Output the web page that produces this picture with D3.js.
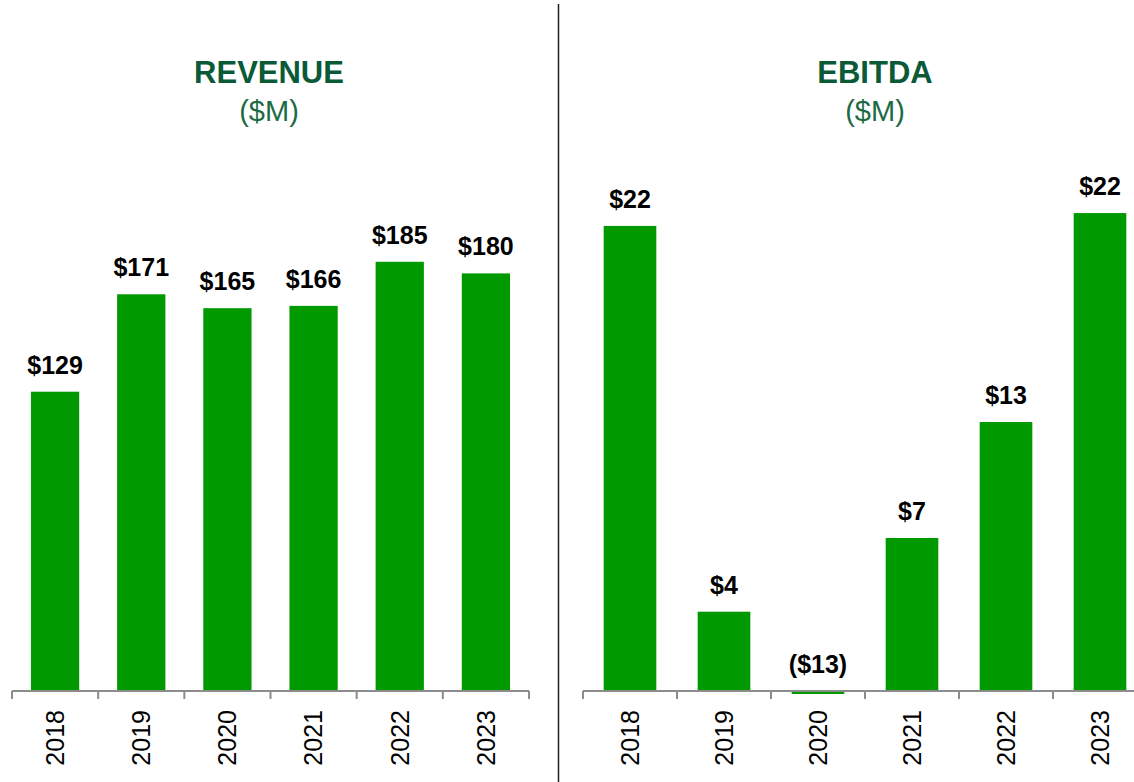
<!DOCTYPE html>
<html>
<head>
<meta charset="utf-8">
<script src="https://cdn.jsdelivr.net/npm/d3@7"></script>
<style>
  body { margin: 0; background: #fff; }
  svg text { font-family: Arial, "Liberation Sans", sans-serif; }
</style>
</head>
<body>
<div class="d3-wrapper"></div>
<script>
const years = ['2018', '2019', '2020', '2021', '2022', '2023'];
const revenueValues = [129, 171, 165, 166, 185, 180];
const revenueLabels = ['$129', '$171', '$165', '$166', '$185', '$180'];
const ebitdaValues = [21.7, 3.7, -0.14, 7.14, 12.55, 22.3];
const ebitdaLabels = ['$22', '$4', '($13)', '$7', '$13', '$22'];

const WIDTH = 1134, HEIGHT = 782;
const BASELINE = 691;
const BAR_COLOR = '#009900';
const TITLE_COLOR = '#0b5a37';
const AXIS_COLOR = '#8c8c8c';

const svg = d3.select('.d3-wrapper').append('svg')
  .attr('width', WIDTH)
  .attr('height', HEIGHT);

// divider between the two panels
svg.append('line')
  .attr('x1', 558.5).attr('x2', 558.5)
  .attr('y1', 4).attr('y2', HEIGHT)
  .attr('stroke', '#222')
  .attr('stroke-width', 1.5);

function drawPanel(cfg) {
  const g = svg.append('g');

  const x = d3.scaleBand()
    .domain(years)
    .range(cfg.xRange)
    .paddingInner(0.44)
    .paddingOuter(0.22);

  const y = d3.scaleLinear()
    .domain(cfg.yDomain)
    .range([BASELINE, BASELINE - cfg.yPixels]);

  const data = years.map((d, i) => ({ year: d, value: cfg.values[i], label: cfg.labels[i] }));

  // bars
  g.selectAll('.bar')
    .data(data)
    .enter().append('rect')
    .attr('class', 'bar')
    .attr('x', (d) => x(d.year))
    .attr('width', x.bandwidth())
    .attr('y', (d) => y(Math.max(0, d.value)))
    .attr('height', (d) => Math.abs(y(d.value) - y(0)))
    .attr('fill', BAR_COLOR);

  // axis line and boundary ticks
  const step = x.step();
  const tickPos = years.map((d) => x(d) - step * 0.22).concat([cfg.xRange[1]]);
  g.append('line')
    .attr('x1', cfg.xRange[0]).attr('x2', cfg.xRange[1])
    .attr('y1', y(0)).attr('y2', y(0))
    .attr('stroke', AXIS_COLOR)
    .attr('stroke-width', 2);
  g.selectAll('.tick')
    .data(tickPos)
    .enter().append('line')
    .attr('class', 'tick')
    .attr('x1', (d) => d).attr('x2', (d) => d)
    .attr('y1', y(0)).attr('y2', y(0) + 8)
    .attr('stroke', AXIS_COLOR)
    .attr('stroke-width', 2);

  // year labels (rotated)
  g.selectAll('.year-label')
    .data(data)
    .enter().append('text')
    .attr('class', 'year-label')
    .attr('transform', (d) => `translate(${x(d.year) + x.bandwidth() / 2},${BASELINE + 19}) rotate(-90)`)
    .attr('dy', '0.35em')
    .attr('text-anchor', 'end')
    .style('font-size', '25px')
    .attr('fill', '#000')
    .text((d) => d.year);

  // value labels
  g.selectAll('.value-label')
    .data(data)
    .enter().append('text')
    .attr('class', 'value-label')
    .attr('x', (d) => x(d.year) + x.bandwidth() / 2)
    .attr('y', (d) => y(Math.max(0, d.value)) - 18)
    .attr('text-anchor', 'middle')
    .style('font-size', '25px')
    .style('font-weight', 'bold')
    .attr('fill', '#000')
    .text((d) => d.label);

  // title
  g.append('text')
    .attr('x', cfg.titleX)
    .attr('y', 83)
    .attr('text-anchor', 'middle')
    .style('font-size', '31px')
    .style('font-weight', 'bold')
    .attr('fill', TITLE_COLOR)
    .text(cfg.title);

  g.append('text')
    .attr('x', cfg.titleX)
    .attr('y', 121)
    .attr('text-anchor', 'middle')
    .style('font-size', '29px')
    .attr('fill', '#1d6b45')
    .text('($M)');
}

drawPanel({
  title: 'REVENUE',
  titleX: 269,
  values: revenueValues,
  labels: revenueLabels,
  xRange: [12, 529],
  yDomain: [0, 200],
  yPixels: 464
});

drawPanel({
  title: 'EBITDA',
  titleX: 875,
  values: ebitdaValues,
  labels: ebitdaLabels,
  xRange: [583, 1147],
  yDomain: [0, 22],
  yPixels: 471.5
});
</script>
</body>
</html>
